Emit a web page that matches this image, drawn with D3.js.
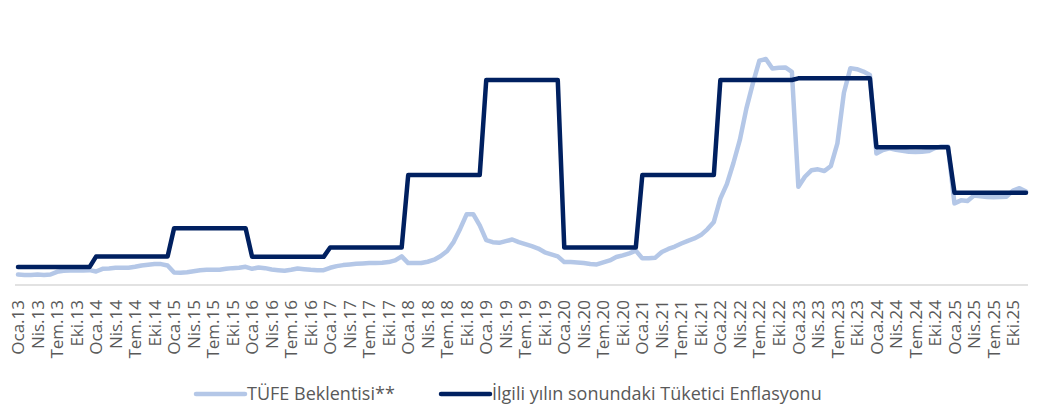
<!DOCTYPE html>
<html>
<head>
<meta charset="utf-8">
<script src="https://cdn.jsdelivr.net/npm/d3@7"></script>
<style>
  html, body { margin: 0; padding: 0; background: #ffffff; }
  svg { display: block; }
  text { font-family: "Open Sans", "Noto Sans", sans-serif; fill: #595959; }
</style>
</head>
<body>
<svg id="chart" width="1044" height="407"></svg>
<script>
// ---- data ----
const monthNames = ["Oca","Şub","Mar","Nis","May","Haz","Tem","Ağu","Eyl","Eki","Kas","Ara"];
const yearLabels = ["13","14","15","16","17","18","19","20","21","22","23","24","25"];
const categories = yearLabels.flatMap(y => monthNames.map(m => m + "." + y));
const tickMonths = ["Oca","Nis","Tem","Eki"];

const seriesNames = ["TÜFE Beklentisi**", "İlgili yılın sonundaki Tüketici Enflasyonu"];

// TÜFE Beklentisi** (monthly, Oca.13 - Ara.25)
const expectation = [
  6.6, 6.5, 6.5, 6.6, 6.5, 6.6, 7.4, 7.7, 7.8, 7.8, 7.8, 7.9,
  7.5, 8.3, 8.4, 8.6, 8.6, 8.6, 8.9, 9.3, 9.5, 9.7, 9.7, 9.3,
  7.2, 7.1, 7.3, 7.6, 7.9, 8.0, 8.0, 8.0, 8.3, 8.5, 8.6, 8.9,
  8.3, 8.7, 8.5, 8.1, 7.9, 7.7, 8.0, 8.4, 8.2, 8.0, 7.9, 7.9,
  8.6, 9.1, 9.4, 9.6, 9.8, 9.9, 10.0, 10.0, 10.1, 10.3, 10.8, 12.0,
  10.0, 10.0, 10.0, 10.4, 11.0, 12.1, 13.6, 16.3, 20.2, 24.5, 24.5, 21.2,
  16.8, 16.2, 16.0, 16.5, 17.0, 16.2, 15.6, 15.0, 14.3, 13.2, 12.6, 12.0,
  10.3, 10.3, 10.2, 10.0, 9.7, 9.6, 10.2, 10.8, 11.8, 12.3, 12.9, 13.7,
  11.4, 11.4, 11.6, 13.3, 14.2, 14.9, 15.8, 16.6, 17.3, 18.3, 20.0, 22.2,
  29.1, 33.4, 39.6, 46.5, 55.8, 63.3, 70.0, 70.5, 67.7, 67.9, 68.0, 66.7,
  32.6, 35.6, 37.5, 37.8, 37.3, 38.8, 45.5, 60.5, 67.8, 67.5, 66.8, 65.8,
  42.5, 43.5, 44.0, 43.6, 43.3, 43.0, 42.9, 43.0, 43.2, 44.1, 44.6, 44.6,
  27.7, 28.6, 28.4, 30.0, 29.8, 29.6, 29.5, 29.6, 29.7, 31.5, 32.2, 31.2
];

// İlgili yılın sonundaki Tüketici Enflasyonu (one value per year, held for all 12 months)
const yearEndInflation = [8.81, 11.92, 20.30, 11.84, 14.60, 36.08, 64.27, 14.60, 36.08, 64.27, 64.77, 44.38, 30.89];

// hidden value axis
const yMin = 3.5, yMax = 80;

// ---- layout ----
const svg = d3.select("#chart");
const plot = { left: 18, right: 1026, top: 27, bottom: 285 };

const x = d3.scalePoint().domain(categories).range([plot.left, plot.right]);
const y = d3.scaleLinear().domain([yMin, yMax]).range([plot.bottom, plot.top]);

const yearEndMonthly = categories.map((c, i) => yearEndInflation[Math.floor(i / 12)]);

// category axis line
svg.append("line")
  .attr("x1", plot.left - 3).attr("x2", plot.right + 2)
  .attr("y1", y(yMin)).attr("y2", y(yMin))
  .attr("stroke", "#d9d9d9").attr("stroke-width", 1.3);

// tick labels
const tickCats = categories.filter(c => tickMonths.includes(c.split(".")[0]));
svg.append("g").selectAll("text")
  .data(tickCats).enter().append("text")
  .attr("transform", d => `translate(${x(d)},${y(yMin) + 15}) rotate(-90)`)
  .attr("text-anchor", "end")
  .attr("dy", "0.36em")
  .style("font-size", "17px")
  .text(d => d);

const line = d3.line()
  .x((d, i) => x(categories[i]))
  .y(d => y(d))
  .curve(d3.curveLinear);

svg.append("path")
  .datum(expectation)
  .attr("d", line)
  .attr("fill", "none")
  .attr("stroke", "#b4c7e7")
  .attr("stroke-width", 4.5)
  .attr("stroke-linejoin", "round")
  .attr("stroke-linecap", "round");

svg.append("path")
  .datum(yearEndMonthly)
  .attr("d", line)
  .attr("fill", "none")
  .attr("stroke", "#002060")
  .attr("stroke-width", 4.5)
  .attr("stroke-linejoin", "round")
  .attr("stroke-linecap", "round");

// legend
const legend = svg.append("g");
const legendItems = [
  { name: seriesNames[0], color: "#b4c7e7", x: 196 },
  { name: seriesNames[1], color: "#002060", x: 441 }
];
legendItems.forEach(it => {
  legend.append("line")
    .attr("x1", it.x).attr("x2", it.x + 49)
    .attr("y1", 394).attr("y2", 394)
    .attr("stroke", it.color).attr("stroke-width", 4.5)
    .attr("stroke-linecap", "round");
  legend.append("text")
    .attr("x", it.x + 51).attr("y", 394)
    .attr("dy", "0.36em")
    .style("font-size", "18px")
    .text(it.name);
});
</script>
</body>
</html>
